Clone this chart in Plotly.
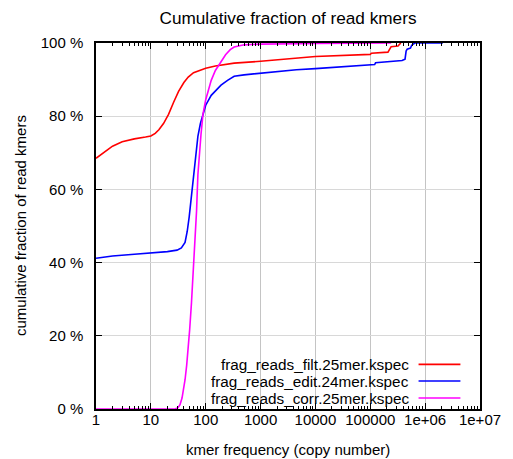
import plotly.graph_objects as go

# ---- data ----
filt_x = [1, 1.5, 2, 3, 5, 8, 10, 12, 14, 17, 21, 26, 32, 40, 48, 60, 80, 100, 150, 200, 330,
          1000, 4500, 10000, 100000, 105000, 210000, 225000, 240000, 320000, 340000, 360000]
filt_y = [68.5, 70.5, 71.8, 73.0, 73.8, 74.3, 74.6, 75.3, 76.3, 78.0, 80.5, 83.8, 86.8, 89.2, 90.7,
          91.9, 92.7, 93.1, 93.7, 94.0, 94.5, 95.0, 95.9, 96.3, 96.9, 97.2, 97.5, 98.5, 99.0, 99.2,
          99.7, 100.0]

edit_x = [1, 2, 5, 10, 20, 30, 36, 42, 46, 50, 55, 60, 66, 72, 80, 90, 100, 126, 150, 190, 250,
          330, 500, 1000, 4500, 10000, 100000, 120000, 125000, 380000, 430000, 450000, 470000,
          540000, 570000, 600000, 650000, 2100000]
edit_y = [41.2, 41.8, 42.3, 42.6, 43.0, 43.4, 44.0, 45.5, 48.5, 52.5, 58.5, 64.5, 70.5, 74.5,
          78.0, 81.0, 83.0, 85.7, 87.0, 88.5, 89.8, 90.9, 91.3, 91.8, 92.7, 93.0, 94.0, 94.1, 94.6,
          95.2, 95.6, 97.8, 98.3, 98.6, 99.4, 99.7, 100.0, 100.0]

corr_x = [1, 20, 28, 31, 34, 37, 40, 42, 45, 48, 51, 55, 58, 62, 65, 68, 72, 76, 82, 89, 100,
          126, 150, 178, 230, 280, 330, 500, 1000, 10000, 100000, 240000]
corr_y = [0, 0, 0.05, 0.3, 1.2, 3.0, 5.5, 8.0, 12.0, 16.2, 21.7, 29.0, 35.0, 41.5, 48.0, 54.0,
          64.0, 70.0, 75.0, 80.5, 84.5, 89.8, 92.5, 94.2, 96.8, 98.2, 98.9, 99.5, 99.7, 99.85,
          99.95, 100.0]

series_names = ["frag_reads_filt.25mer.kspec", "frag_reads_edit.24mer.kspec",
                "frag_reads_corr.25mer.kspec"]
series_colors = ["#ff0000", "#0000ff", "#ff00ff"]

x_tickvals = [1, 10, 100, 1000, 10000, 100000, 1000000, 10000000]
x_ticktext = ["1", "10", "100", "1000", "10000", "100000", "1e+06", "1e+07"]
y_tickvals = [0, 20, 40, 60, 80, 100]
y_ticktext = ["0 %", "20 %", "40 %", "60 %", "80 %", "100 %"]

FONT = "Liberation Sans, Arial, sans-serif"

fig = go.Figure()
for xs, ys, name, col in zip([filt_x, edit_x, corr_x], [filt_y, edit_y, corr_y],
                             series_names, series_colors):
    fig.add_trace(go.Scatter(x=xs, y=ys, mode="lines", name=name,
                             line=dict(color=col, width=1.6), showlegend=False))

fig.update_layout(
    width=513, height=459,
    margin=dict(l=96, r=24, t=43, b=50),
    paper_bgcolor="white", plot_bgcolor="white",
    font=dict(family=FONT, size=15, color="black"),
    title=dict(text="Cumulative fraction of read kmers", x=0.5, xanchor="center", xref="paper",
               y=1 - 18 / 459, yanchor="middle", font=dict(size=17.2)),
)

fig.update_xaxes(
    type="log", range=[0, 7],
    tickvals=x_tickvals, ticktext=x_ticktext,
    ticks="inside", ticklen=6, tickwidth=1, tickcolor="black",
    showline=True, linecolor="black", linewidth=1.5, mirror="ticks",
    showgrid=True, gridcolor="#c4c4c4", gridwidth=1,
    zeroline=False, ticklabelstandoff=-4,
    minor=dict(ticks="inside", ticklen=3, tickcolor="black", dtick="D1", showgrid=False),
    tickfont=dict(size=15),
)
fig.update_yaxes(
    range=[0, 100],
    tickvals=y_tickvals, ticktext=y_ticktext,
    ticks="inside", ticklen=6, tickwidth=1, tickcolor="black",
    showline=True, linecolor="black", linewidth=1.5, mirror="ticks",
    showgrid=True, gridcolor="#d8d8d8", gridwidth=1,
    zeroline=False, ticklabelstandoff=8,
    tickfont=dict(size=15),
)

# opaque key box (gnuplot style)
fig.add_shape(type="rect", xref="paper", yref="paper", x0=0.278, x1=0.99, y0=0.009, y1=0.152,
              fillcolor="white", line=dict(width=0), layer="below")

# key: text right-aligned, sample line to the right
key_y = [0.122, 0.0765, 0.030]
for name, col, ky in zip(series_names, series_colors, key_y):
    fig.add_annotation(text=name, xref="paper", yref="paper", x=0.818, y=ky,
                       xanchor="right", yanchor="middle", showarrow=False, borderpad=0,
                       font=dict(size=15.3, family=FONT))
    fig.add_shape(type="line", xref="paper", yref="paper", x0=0.84, x1=0.949, y0=ky, y1=ky,
                  line=dict(color=col, width=1.6))

# axis titles
fig.add_annotation(text="kmer frequency (copy number)", xref="paper", yref="paper",
                   x=0.5, y=0, yshift=-40, xanchor="center", yanchor="middle",
                   showarrow=False, font=dict(size=15))
fig.add_annotation(text="cumulative fraction of read kmers", xref="paper", yref="paper",
                   x=0, xshift=-76, y=0.5, textangle=-90, xanchor="center", yanchor="middle",
                   showarrow=False, font=dict(size=15))

fig.write_html("out.html")
